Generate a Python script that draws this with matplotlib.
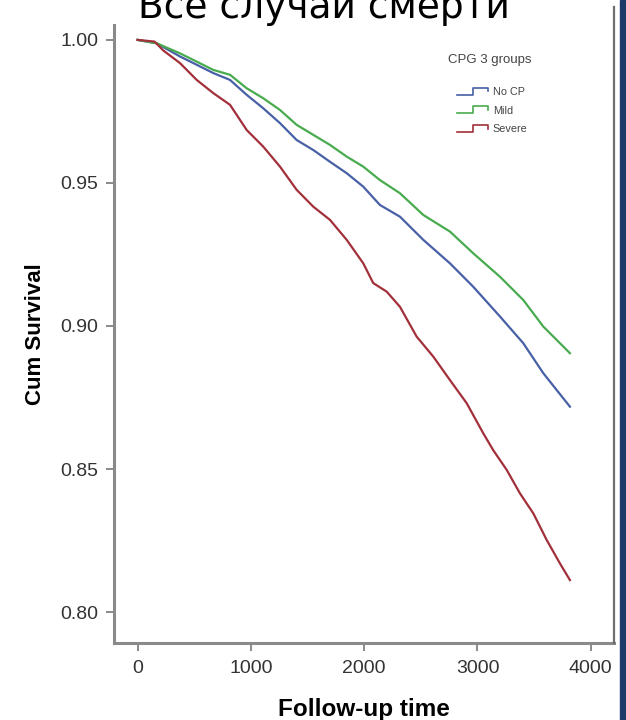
import matplotlib
matplotlib.use("Agg")
import matplotlib.pyplot as plt
import numpy as np
from matplotlib.lines import Line2D
from matplotlib.patches import Rectangle
from matplotlib.legend_handler import HandlerBase

plt.rcParams['font.family'] = ['Liberation Sans', 'DejaVu Sans']

# follow-up time (days) and cumulative survival
t_severe = [0, 150, 227, 374, 522, 668, 816, 963, 1109, 1257, 1404, 1551, 1698, 1846,
            1992, 2080, 2199, 2316, 2463, 2610, 2757, 2905, 3051, 3139, 3258, 3375,
            3493, 3611, 3728, 3816]
s_severe = [1.000, 0.9994, 0.9963, 0.9919, 0.9860, 0.9814, 0.9773, 0.9685, 0.9627,
            0.9557, 0.9476, 0.9417, 0.9371, 0.9301, 0.9219, 0.9150, 0.9120, 0.9067,
            0.8963, 0.8893, 0.8811, 0.8730, 0.8625, 0.8566, 0.8497, 0.8415, 0.8345,
            0.8252, 0.8170, 0.8112]

t_other = [0, 169, 374, 522, 668, 816, 963, 1109, 1257, 1404, 1551, 1698, 1846, 1992,
           2139, 2316, 2522, 2757, 2963, 3199, 3404, 3581, 3816]
s_mild = [1.000, 0.9988, 0.9953, 0.9924, 0.9895, 0.9878, 0.9831, 0.9796, 0.9755,
          0.9703, 0.9668, 0.9633, 0.9592, 0.9557, 0.9510, 0.9464, 0.9388, 0.9330,
          0.9254, 0.9172, 0.9091, 0.8998, 0.8905]
s_nocp = [1.000, 0.9988, 0.9942, 0.9913, 0.9884, 0.9860, 0.9808, 0.9761, 0.9709,
          0.9650, 0.9615, 0.9574, 0.9534, 0.9487, 0.9423, 0.9382, 0.9301, 0.9219,
          0.9137, 0.9033, 0.8940, 0.8835, 0.8718]

x_ticks = [0, 1000, 2000, 3000, 4000]
y_ticks = [0.80, 0.85, 0.90, 0.95, 1.00]


class StepHandler(HandlerBase):
    # little step icon like in SPSS survival legends
    def create_artists(self, legend, orig_handle, xdescent, ydescent,
                       width, height, fontsize, trans):
        xs = np.array([0, 0.5, 0.5, 0.95, 0.95]) * width - xdescent
        ys = np.array([0.05, 0.05, 0.95, 0.95, 0.5]) * height - ydescent
        ln = Line2D(xs, ys, color=orig_handle.get_color(), lw=1.2, transform=trans)
        return [ln]


W, H = 626, 720
fig = plt.figure(figsize=(6.26, 7.2), dpi=100)
fig.patch.set_facecolor('white')

ax = fig.add_axes([114 / W, 1 - 643 / H, 500 / W, 618 / H])

l1, = ax.plot(t_other, s_nocp, color='#4760a6', lw=1.6, label='No CP')
l2, = ax.plot(t_other, s_mild, color='#48ab4e', lw=1.6, label='Mild')
l3, = ax.plot(t_severe, s_severe, color='#a2303b', lw=1.6, label='Severe')

ax.set_xlim(-208, 4205)
ax.set_ylim(0.7892, 1.0052)
ax.set_xticks(x_ticks)
ax.set_yticks(y_ticks)
ax.set_yticklabels(['%.2f' % v for v in y_ticks])

for s in ['top', 'right']:
    ax.spines[s].set_visible(False)
for s in ['left', 'bottom']:
    ax.spines[s].set_color('#8a8a8a')
    ax.spines[s].set_linewidth(2.2)
ax.tick_params(length=5.5, width=1.2, color='#777777', labelcolor='#333333',
               labelsize=14)
ax.tick_params(axis='x', pad=7)
ax.tick_params(axis='y', pad=6)

ax.set_xlabel('Follow-up time', fontsize=17.5, fontweight='bold', labelpad=15)
ax.set_ylabel('Cum Survival', fontsize=16, fontweight='bold', labelpad=10)

# right border line of the pasted picture
fig.add_artist(Line2D([614 / W, 614 / W], [1 - 643 / H, 1 - 7 / H],
                      color='#6e6e6e', lw=1.6))
# slide's dark blue strip on the right
fig.add_artist(Rectangle((620 / W, 0), 6 / W, 1, color='#1c3b69',
                         transform=fig.transFigure))

fig.text(448 / W, 1 - 60 / H, 'CPG 3 groups', fontsize=9.5, color='#444444',
         ha='left', va='center')
ax.legend(handles=[l1, l2, l3], handler_map={Line2D: StepHandler()},
          loc='upper left', bbox_to_anchor=(457 / W, 1 - 87 / H),
          bbox_transform=fig.transFigure, frameon=False, fontsize=7.8,
          labelcolor='#444444', borderpad=0, borderaxespad=0,
          handlelength=3.0, handletextpad=0.3, labelspacing=0.8)

fig.text(324 / W, 1 - 18 / H, 'Все случаи смерти', fontsize=27,
         family='DejaVu Sans', ha='center', va='baseline', color='black')

fig.savefig('out.png', dpi=100)
